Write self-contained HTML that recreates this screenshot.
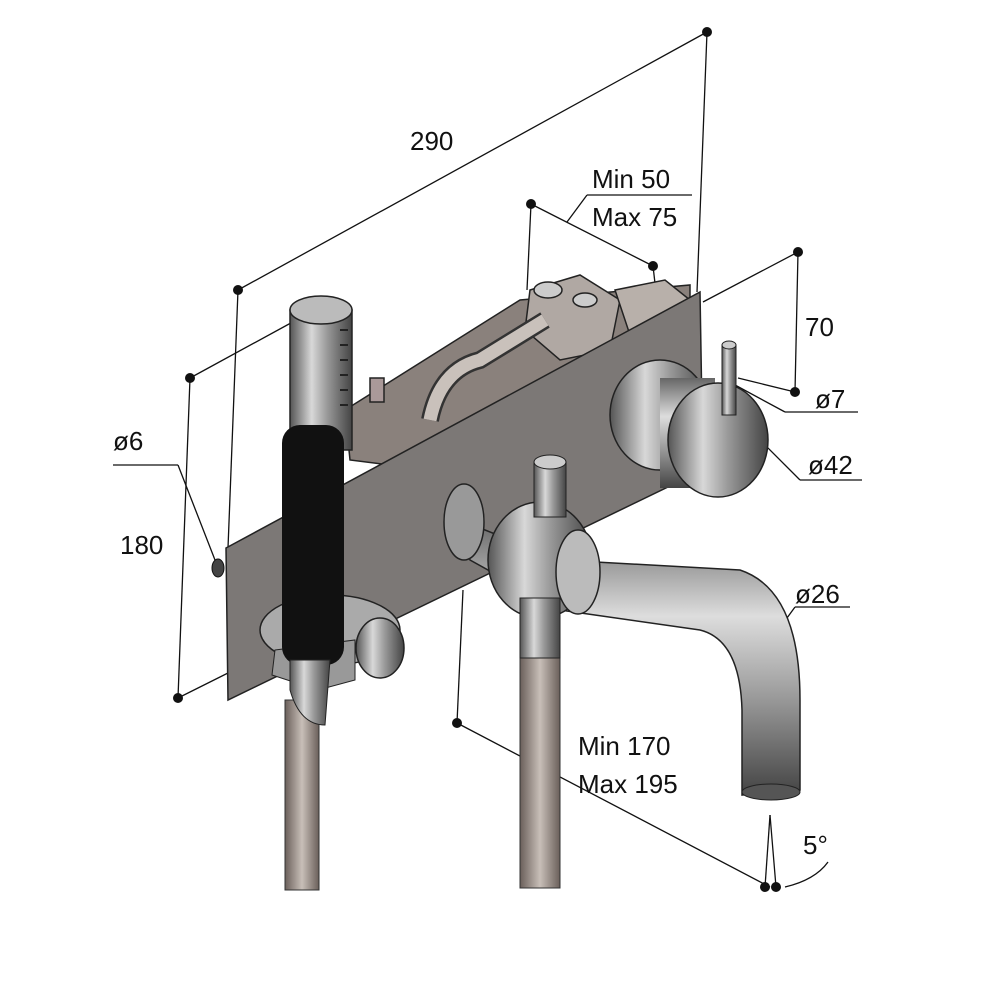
<!DOCTYPE html>
<html><head><style>
body{margin:0;background:#fff}
svg{display:block}
text{font-family:"Liberation Sans",sans-serif;font-size:26px;fill:#111}
</style></head><body>
<svg width="1000" height="1000" viewBox="0 0 1000 1000">
<defs>
<linearGradient id="met" x1="0" y1="0" x2="1" y2="0">
<stop offset="0" stop-color="#555"/><stop offset="0.35" stop-color="#d8d8d8"/><stop offset="0.6" stop-color="#999"/><stop offset="1" stop-color="#444"/></linearGradient>
<linearGradient id="metv" x1="0" y1="0" x2="0" y2="1">
<stop offset="0" stop-color="#666"/><stop offset="0.35" stop-color="#ddd"/><stop offset="0.65" stop-color="#999"/><stop offset="1" stop-color="#444"/></linearGradient>
<linearGradient id="hose" x1="0" y1="0" x2="1" y2="0">
<stop offset="0" stop-color="#6a5f5a"/><stop offset="0.5" stop-color="#c8bfb8"/><stop offset="1" stop-color="#6a5f5a"/></linearGradient>
</defs>
<g stroke="#111" stroke-width="1.3" fill="none">
<!-- dimension lines -->
<line x1="238" y1="290" x2="707" y2="32"/>
<line x1="238" y1="290" x2="228" y2="548"/>
<line x1="707" y1="32" x2="697" y2="292"/>
<line x1="190" y1="378" x2="300" y2="318"/>
<line x1="190" y1="378" x2="178" y2="698"/>
<line x1="178" y1="698" x2="278" y2="648"/>
<line x1="531" y1="204" x2="653" y2="266"/>
<line x1="531" y1="204" x2="527" y2="290"/>
<line x1="653" y1="266" x2="656" y2="292"/>
<line x1="567" y1="222" x2="587" y2="195"/>
<line x1="587" y1="195" x2="692" y2="195"/>
<line x1="798" y1="252" x2="703" y2="302"/>
<line x1="798" y1="252" x2="795" y2="392"/>
<line x1="795" y1="392" x2="738" y2="378"/>
<line x1="735" y1="385" x2="785" y2="412"/>
<line x1="785" y1="412" x2="858" y2="412"/>
<line x1="755" y1="435" x2="800" y2="480"/>
<line x1="800" y1="480" x2="862" y2="480"/>
<line x1="760" y1="655" x2="795" y2="607"/>
<line x1="795" y1="607" x2="850" y2="607"/>
<line x1="113" y1="465" x2="178" y2="465"/>
<line x1="178" y1="465" x2="215" y2="560"/>
<line x1="463" y1="590" x2="457" y2="723"/>
<line x1="457" y1="723" x2="770" y2="887"/>
<line x1="770" y1="815" x2="765" y2="887"/>
<line x1="770" y1="815" x2="776" y2="887"/>
<path d="M785 887 Q815 880 828 862"/>
</g>
<g fill="#111">
<circle cx="238" cy="290" r="5"/><circle cx="707" cy="32" r="5"/>
<circle cx="190" cy="378" r="5"/><circle cx="178" cy="698" r="5"/>
<circle cx="531" cy="204" r="5"/><circle cx="653" cy="266" r="5"/>
<circle cx="798" cy="252" r="5"/><circle cx="795" cy="392" r="5"/>
<circle cx="457" cy="723" r="5"/><circle cx="765" cy="887" r="5"/><circle cx="776" cy="887" r="5"/>
</g>
<!-- internal mechanism -->
<g stroke="#222" stroke-width="1.5">
<polygon points="345,410 520,300 690,285 690,340 430,470 350,460" fill="#8a817c"/>
<polygon points="530,290 580,275 620,300 610,350 560,360 525,330" fill="#b0a8a3"/>
<polygon points="615,290 665,280 690,300 680,330 630,335" fill="#b8b0aa"/>
<path d="M430 420 Q440 370 480 360 L545 320" stroke="#333" stroke-width="18" fill="none"/>
<path d="M430 420 Q440 370 480 360 L545 320" stroke="#c9c1bb" stroke-width="13" fill="none"/>
<ellipse cx="548" cy="290" rx="14" ry="8" fill="#ccc"/>
<ellipse cx="585" cy="300" rx="12" ry="7" fill="#ccc"/>
<rect x="370" y="378" width="14" height="24" fill="#a99"/>
</g>
<!-- plate -->
<polygon points="226,548 700,292 703,470 228,700" fill="#7c7876" stroke="#222" stroke-width="1.5"/>
<ellipse cx="218" cy="568" rx="6" ry="9" fill="#444" stroke="#111"/>
<!-- hand shower hose -->
<rect x="285" y="700" width="34" height="190" fill="url(#hose)" stroke="#333"/>
<!-- holder -->
<ellipse cx="330" cy="630" rx="70" ry="35" fill="#aaa" stroke="#222" stroke-width="1.5"/>
<ellipse cx="380" cy="648" rx="24" ry="30" fill="url(#met)" stroke="#222" stroke-width="1.5"/>
<polygon points="275,650 355,640 355,680 318,690 272,675" fill="#999" stroke="#222"/>
<!-- hand shower -->
<rect x="290" y="310" width="62" height="140" fill="url(#met)" stroke="#222" stroke-width="1.5"/>
<ellipse cx="321" cy="310" rx="31" ry="14" fill="#bbb" stroke="#222" stroke-width="1.5"/>
<rect x="282" y="425" width="62" height="240" rx="18" fill="#111"/>
<path d="M290 660 L290 690 Q300 725 325 725 L330 660 Z" fill="url(#met)" stroke="#222"/>
<g stroke="#222" stroke-width="2">
<line x1="340" y1="330" x2="348" y2="330"/><line x1="340" y1="345" x2="348" y2="345"/><line x1="340" y1="360" x2="348" y2="360"/><line x1="340" y1="375" x2="348" y2="375"/><line x1="340" y1="390" x2="348" y2="390"/><line x1="340" y1="405" x2="348" y2="405"/>
</g>
<!-- handle mixer -->
<ellipse cx="660" cy="415" rx="50" ry="55" fill="url(#met)" stroke="#222" stroke-width="1.5"/>
<rect x="660" y="378" width="55" height="110" fill="url(#metv)"/>
<ellipse cx="718" cy="440" rx="50" ry="57" fill="url(#met)" stroke="#222" stroke-width="1.5"/>
<rect x="722" y="345" width="14" height="70" fill="url(#met)" stroke="#222"/>
<ellipse cx="729" cy="345" rx="7" ry="4" fill="#ccc" stroke="#222"/>
<!-- spout hose -->
<rect x="520" y="590" width="40" height="298" fill="url(#hose)" stroke="#333"/>
<!-- spout -->
<path d="M460 520 L560 560 L740 570 Q800 590 800 700 L800 790 L742 795 L742 710 Q740 640 700 630 L560 610 L470 560 Z" fill="url(#metv)" stroke="#222" stroke-width="1.5"/>
<ellipse cx="464" cy="522" rx="20" ry="38" fill="#999" stroke="#222" stroke-width="1.5"/>
<ellipse cx="771" cy="792" rx="29" ry="8" fill="#555" stroke="#222"/>
<ellipse cx="540" cy="560" rx="52" ry="58" fill="url(#met)" stroke="#222" stroke-width="1.5"/>
<ellipse cx="578" cy="572" rx="22" ry="42" fill="#bbb" stroke="#222" stroke-width="1.5"/>
<rect x="534" y="462" width="32" height="55" fill="url(#met)" stroke="#222"/>
<ellipse cx="550" cy="462" rx="16" ry="7" fill="#ccc" stroke="#222"/>
<rect x="520" y="598" width="40" height="60" fill="url(#met)" stroke="#222"/>
<!-- labels -->
<text x="410" y="150">290</text>
<text x="592" y="188">Min 50</text>
<text x="592" y="226">Max 75</text>
<text x="805" y="336">70</text>
<text x="815" y="408">ø7</text>
<text x="808" y="474">ø42</text>
<text x="113" y="450">ø6</text>
<text x="120" y="554">180</text>
<text x="795" y="603">ø26</text>
<text x="578" y="755">Min 170</text>
<text x="578" y="793">Max 195</text>
<text x="803" y="854">5°</text>
</svg>
</body></html>
